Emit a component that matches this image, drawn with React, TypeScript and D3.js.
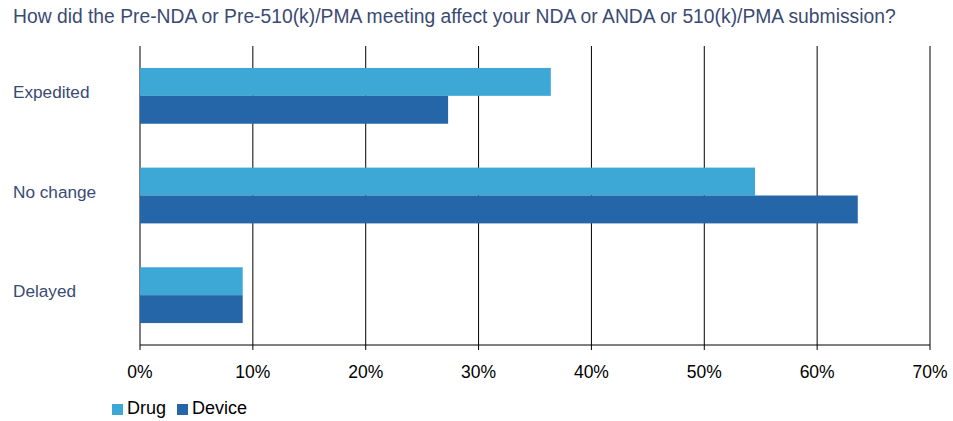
import React from "react";
import * as d3 from "d3";

const title = "How did the Pre-NDA or Pre-510(k)/PMA meeting affect your NDA or ANDA or 510(k)/PMA submission?";
const categories = ["Expedited", "No change", "Delayed"];
const seriesNames = ["Drug", "Device"];
const drugValues = [36.4, 54.5, 9.1];
const deviceValues = [27.3, 63.6, 9.1];
const xTicks = [0, 10, 20, 30, 40, 50, 60, 70];
const colors = ["#3DA8D6", "#2566A8"];

const W = 953;
const H = 421;
const left = 140;
const right = 930;
const top = 46;
const bottom = 345;

export default function App() {
  const x = d3.scaleLinear().domain([0, 70]).range([left, right]);
  const y = d3.scaleBand<string>().domain(categories).range([top, bottom]).paddingInner(0.44).paddingOuter(0.22);
  const sub = d3.scaleBand<string>().domain(seriesNames).range([0, y.bandwidth()]);
  const series = [drugValues, deviceValues];
  const textColor = "#3B4A72";
  const font = "'Liberation Sans', Arial, sans-serif";

  return (
    <svg width={W} height={H} style={{ position: "absolute", left: 0, top: 0, background: "#fff" }} fontFamily={font}>
      <text x={13} y={23} fontSize={19.3} fill={textColor}>{title}</text>
      {xTicks.map((t) => (
        <line key={"g" + t} x1={x(t)} x2={x(t)} y1={top} y2={bottom + 5} stroke="#000" strokeWidth={1} />
      ))}
      {categories.map((c, i) =>
        series.map((vals, s) => (
          <rect
            key={c + s}
            x={x(0)}
            y={(y(c) as number) + (sub(seriesNames[s]) as number)}
            width={x(vals[i]) - x(0)}
            height={sub.bandwidth()}
            fill={colors[s]}
          />
        ))
      )}
      <line x1={x(0)} x2={x(70)} y1={bottom} y2={bottom} stroke="#000" strokeWidth={1} />
      {xTicks.map((t) => (
        <text key={"t" + t} x={x(t)} y={378} fontSize={17.5} textAnchor="middle" fill="#000">{t + "%"}</text>
      ))}
      {categories.map((c) => (
        <text key={"c" + c} x={13} y={(y(c) as number) + y.bandwidth() / 2 + 2} fontSize={17.2} fill={textColor}>{c}</text>
      ))}
      {seriesNames.map((n, i) => {
        const lx = [112, 177][i];
        return (
          <g key={"l" + n}>
            <rect x={lx} y={404} width={11} height={11} fill={colors[i]} />
            <text x={lx + 15} y={414} fontSize={18} fill="#000">{n}</text>
          </g>
        );
      })}
    </svg>
  );
}
